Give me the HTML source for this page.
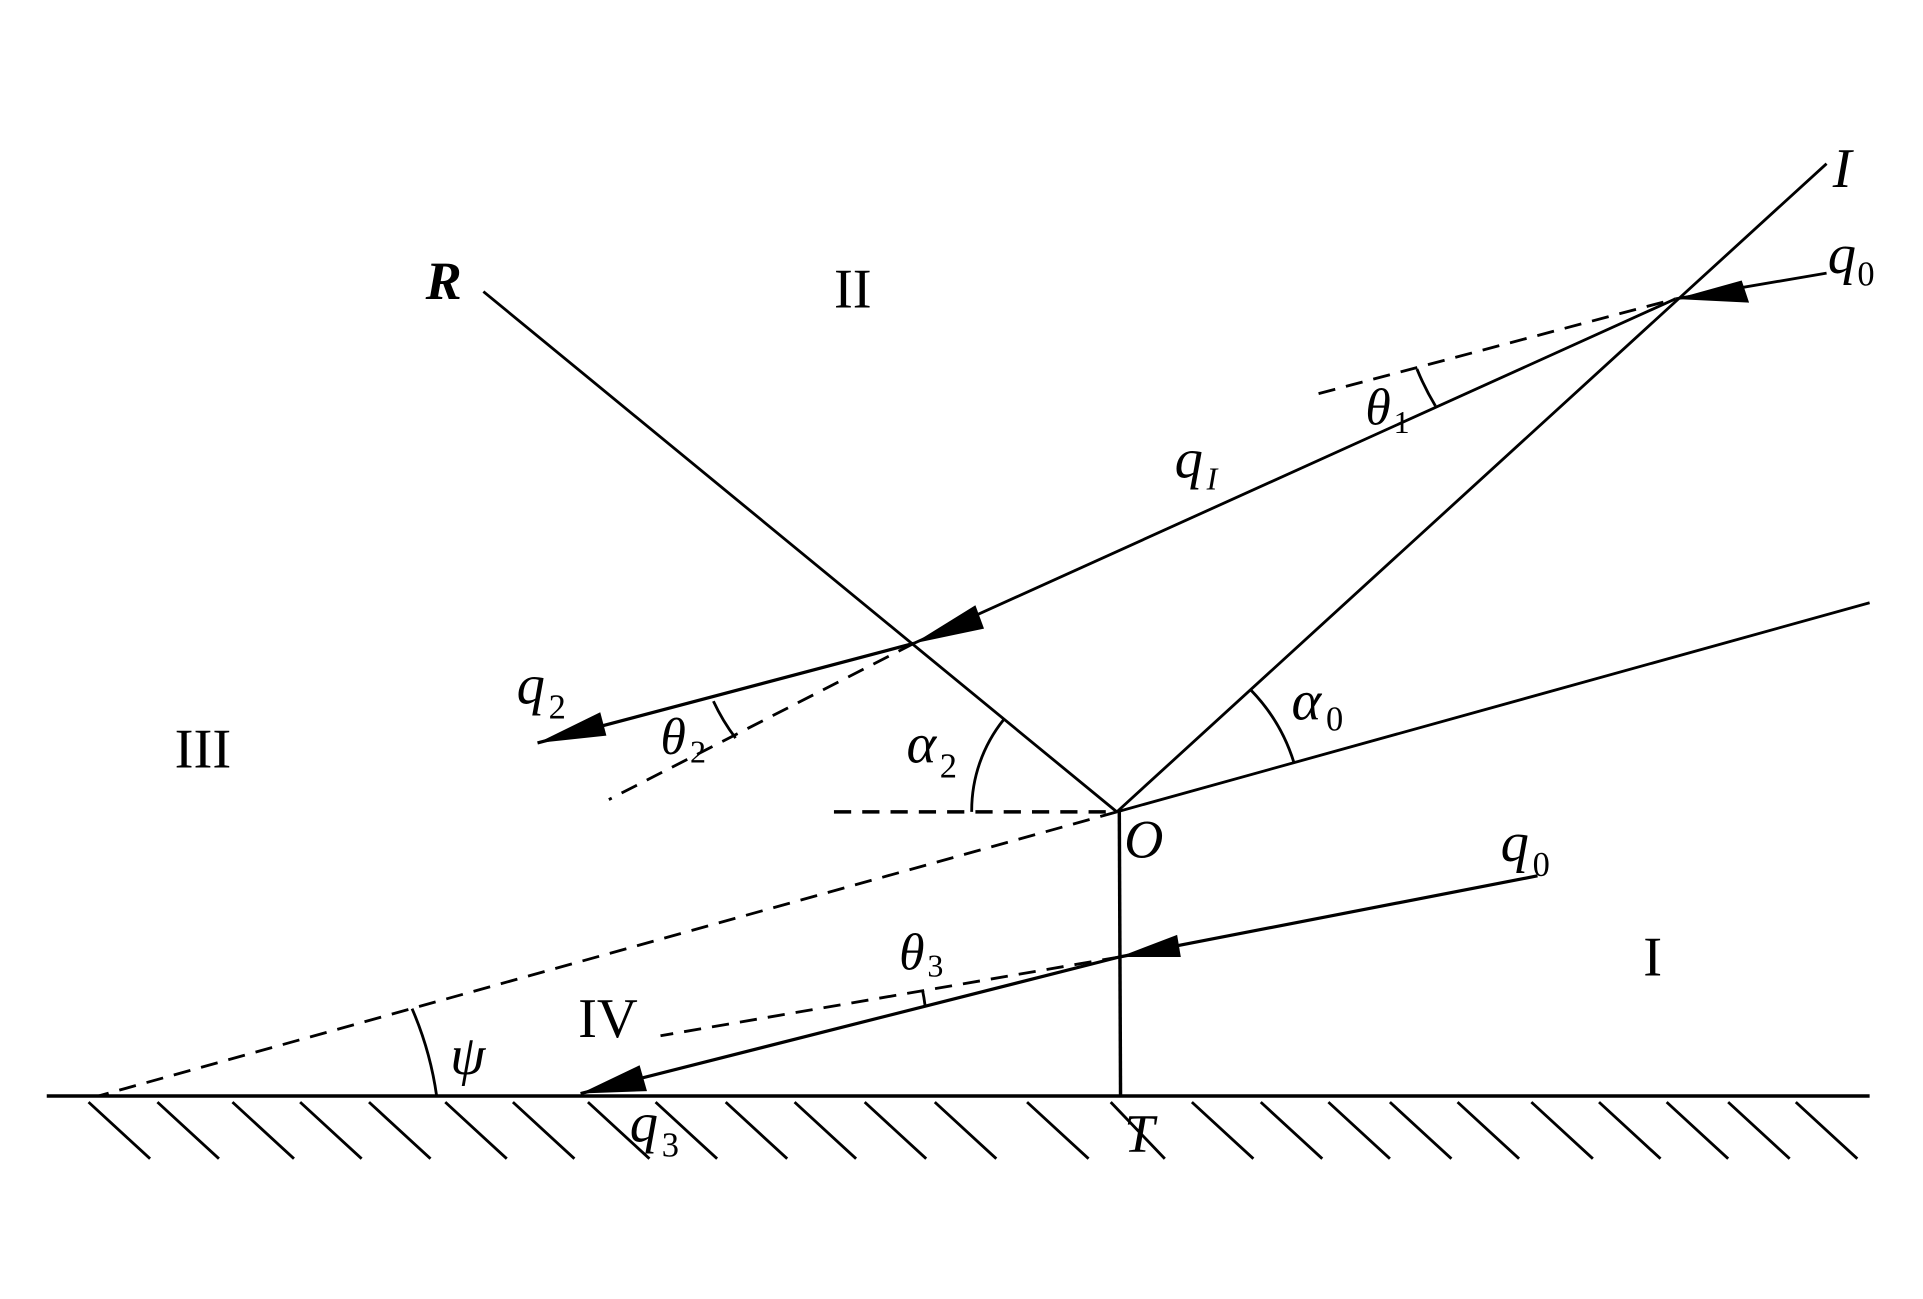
<!DOCTYPE html>
<html><head><meta charset="utf-8"><style>
html,body{margin:0;padding:0;background:#fff;}
svg{display:block;}
text{font-family:"Liberation Serif",serif;fill:#000;}
.it{font-style:italic;}
</style></head><body>
<svg width="1923" height="1299" viewBox="0 0 1563.4 1056" xmlns="http://www.w3.org/2000/svg">
<g stroke="#000" fill="none" stroke-width="2.3">
<line x1="38" y1="891" x2="1520" y2="891" stroke-width="2.8"/>
<g stroke-width="2.3">
<line x1="72" y1="896" x2="122" y2="942"/>
<line x1="128" y1="896" x2="178" y2="942"/>
<line x1="189" y1="896" x2="239" y2="942"/>
<line x1="244" y1="896" x2="294" y2="942"/>
<line x1="300" y1="896" x2="350" y2="942"/>
<line x1="362" y1="896" x2="412" y2="942"/>
<line x1="417" y1="896" x2="467" y2="942"/>
<line x1="478" y1="896" x2="528" y2="942"/>
<line x1="533" y1="896" x2="583" y2="942"/>
<line x1="590" y1="896" x2="640" y2="942"/>
<line x1="646" y1="896" x2="696" y2="942"/>
<line x1="703" y1="896" x2="753" y2="942"/>
<line x1="760" y1="896" x2="810" y2="942"/>
<line x1="835" y1="896" x2="885" y2="942"/>
<line x1="903" y1="896" x2="947" y2="942"/>
<line x1="969" y1="896" x2="1019" y2="942"/>
<line x1="1025" y1="896" x2="1075" y2="942"/>
<line x1="1080" y1="896" x2="1130" y2="942"/>
<line x1="1130" y1="896" x2="1180" y2="942"/>
<line x1="1185" y1="896" x2="1235" y2="942"/>
<line x1="1245" y1="896" x2="1295" y2="942"/>
<line x1="1300" y1="896" x2="1350" y2="942"/>
<line x1="1355" y1="896" x2="1405" y2="942"/>
<line x1="1405" y1="896" x2="1455" y2="942"/>
<line x1="1460" y1="896" x2="1510" y2="942"/>
</g>
<line x1="393" y1="237" x2="908" y2="660"/>
<line x1="1485" y1="133" x2="908" y2="660"/>
<line x1="908" y1="660" x2="1520" y2="490"/>
<line x1="910" y1="660" x2="911" y2="891" stroke-width="2.8"/>
<g stroke-dasharray="14,9">
<line x1="678" y1="660" x2="908" y2="660" stroke-width="2.8"/>
<line x1="908" y1="660" x2="80" y2="891"/>
<line x1="1072" y1="320" x2="1362" y2="243"/>
<line x1="743" y1="523" x2="495" y2="650"/>
<line x1="910" y1="778" x2="537" y2="842"/>
</g>
<line x1="1485" y1="222" x2="1362" y2="243"/>
<line x1="1362" y1="243" x2="743" y2="523"/>
<line x1="743" y1="523" x2="437" y2="604" stroke-width="2.6"/>
<line x1="1250" y1="712" x2="910" y2="778" stroke-width="2.6"/>
<line x1="910" y1="778" x2="472" y2="889" stroke-width="2.6"/>
<path d="M790 660 A118 118 0 0 1 816 585"/>
<path d="M1017 561 A147 147 0 0 1 1052 620"/>
<path d="M355 891 A275 275 0 0 0 335 820"/>
<path d="M1152 300 A215 215 0 0 0 1167 330"/>
<path d="M580 570 A165 165 0 0 0 598 600"/>
<path d="M750 805 A160 160 0 0 1 752 817"/>
</g>
<g fill="#000">
<polygon points="1362,243 1416,228 1422,246"/>
<polygon points="743,523 793,492 800,511"/>
<polygon points="437,604 488,579 493,598"/>
<polygon points="910,778 957,760 960,778"/>
<polygon points="472,889 520,866 526,887"/>
</g>
<text class="it" x="1490" y="152" font-size="46">I</text>
<text class="it" x="1486" y="222" font-size="46">q</text><text x="1510" y="232" font-size="28">0</text>
<text class="it" x="346" y="243" font-size="44" font-weight="bold">R</text>
<text x="678" y="250" font-size="46">II</text>
<text class="it" x="1110" y="345" font-size="42">θ</text><text x="1133" y="352" font-size="26">1</text>
<text class="it" x="955" y="388" font-size="46">q</text><text class="it" x="981" y="398" font-size="26">I</text>
<text class="it" x="420" y="572" font-size="46">q</text><text x="446" y="584" font-size="28">2</text>
<text x="142" y="624" font-size="46">III</text>
<text class="it" x="537" y="613" font-size="42">θ</text><text x="561" y="620" font-size="26">2</text>
<text class="it" x="737" y="620" font-size="46">α</text><text x="764" y="632" font-size="28">2</text>
<text class="it" x="1050" y="585" font-size="46">α</text><text x="1078" y="594" font-size="28">0</text>
<text class="it" x="914" y="697" font-size="44">O</text>
<text class="it" x="1220" y="700" font-size="46">q</text><text x="1246" y="712" font-size="28">0</text>
<text class="it" x="731" y="788" font-size="42">θ</text><text x="754" y="794" font-size="26">3</text>
<text x="1336" y="793" font-size="46">I</text>
<text x="470" y="843" font-size="46">IV</text>
<text class="it" x="366" y="873" font-size="46">ψ</text>
<text class="it" x="512" y="928" font-size="46">q</text><text x="538" y="940" font-size="28">3</text>
<text class="it" x="914" y="936" font-size="44">T</text>
</svg>
</body></html>
